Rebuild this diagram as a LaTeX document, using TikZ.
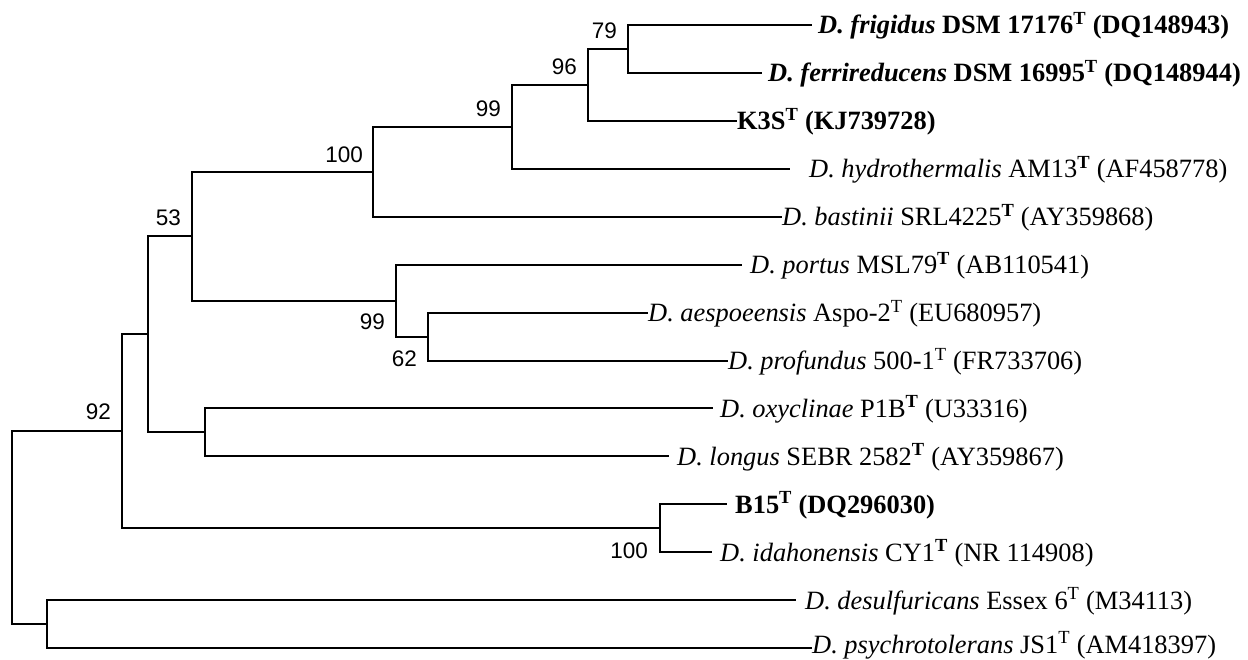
\documentclass[tikz,border=0pt]{standalone}
\usepackage{fontspec}
\setmainfont{Liberation Serif}
\newfontfamily\supportfont{Liberation Sans}
\tikzstyle{branch}=[line width=2.2pt]
\tikzstyle{taxon}=[anchor=base west,inner sep=0pt,font=\fontsize{26.4}{30}\selectfont]
\tikzstyle{bootabove}=[anchor=south east,inner sep=0pt,font=\supportfont\fontsize{22.5}{26}\selectfont]
\tikzstyle{bootbelow}=[bootabove,anchor=north east]
\newcommand{\drawleaf}[6][9]{
\coordinate (#2) at (#3,#4);
\node[taxon] (#2t) at (#3+#5,#4+#1) {#6};
}
\newcommand{\supT}{\textsuperscript{T}}
\newcommand{\supTb}{\textsuperscript{\textbf{T}}}

\begin{document}
\begin{tikzpicture}[x=1pt,y=-1pt]
\useasboundingbox (0,0) rectangle (1248,660);
	% leaves: name, end of branch, height, gap, label
	\drawleaf{frig}{812}{25}{6}{\textbf{\textit{D. frigidus} DSM 17176\supT{} (DQ148943)}}
	\drawleaf{ferr}{762}{73}{6}{\textbf{\textit{D. ferrireducens} DSM 16995\supT{} (DQ148944)}}
	\drawleaf{kths}{737}{121}{0}{\textbf{K3S\supT{} (KJ739728)}}
	\drawleaf{hydr}{790}{169}{19}{\textit{D. hydrothermalis} AM13\supTb{} (AF458778)}
	\drawleaf{bast}{782}{217}{0}{\textit{D. bastinii} SRL4225\supTb{} (AY359868)}
	\drawleaf{port}{742}{265}{8}{\textit{D. portus} MSL79\supTb{} (AB110541)}
	\drawleaf{aesp}{648}{313}{0}{\textit{D. aespoeensis} Aspo-2\supT{} (EU680957)}
	\drawleaf{prof}{728}{361}{0}{\textit{D. profundus} 500-1\supT{} (FR733706)}
	\drawleaf{oxyc}{713}{408}{7}{\textit{D. oxyclinae} P1B\supTb{} (U33316)}
	\drawleaf{long}{669}{456}{8}{\textit{D. longus} SEBR 2582\supTb{} (AY359867)}
	\drawleaf{bfif}{727}{504}{8}{\textbf{B15\supT{} (DQ296030)}}
	\drawleaf{idah}{712}{552}{8}{\textit{D. idahonensis} CY1\supTb{} (NR 114908)}
	\drawleaf{desu}{796}{600}{9}{\textit{D. desulfuricans} Essex 6\supT{} (M34113)}
	\drawleaf[5]{psyc}{812}{648}{0}{\textit{D. psychrotolerans} JS1\supT{} (AM418397)}
	% internal nodes
	\coordinate (n79) at (628,49);
	\coordinate (n96) at (588,85);
	\coordinate (n99a) at (512,127);
	\coordinate (n100a) at (373,172);
	\coordinate (n62) at (428,337);
	\coordinate (n99b) at (396,301);
	\coordinate (n53) at (192,236);
	\coordinate (nox) at (205,432);
	\coordinate (nmid) at (148,334);
	\coordinate (nbf) at (660,528);
	\coordinate (n92) at (122,431);
	\coordinate (nds) at (47,624);
	\coordinate (root) at (12,528);
	% branches
	\draw[branch] (n79) |- (frig);
	\draw[branch] (n79) |- (ferr);
	\draw[branch] (n96) |- (n79);
	\draw[branch] (n96) |- (kths);
	\draw[branch] (n99a) |- (n96);
	\draw[branch] (n99a) |- (hydr);
	\draw[branch] (n100a) |- (n99a);
	\draw[branch] (n100a) |- (bast);
	\draw[branch] (n62) |- (aesp);
	\draw[branch] (n62) |- (prof);
	\draw[branch] (n99b) |- (port);
	\draw[branch] (n99b) |- (n62);
	\draw[branch] (n53) |- (n100a);
	\draw[branch] (n53) |- (n99b);
	\draw[branch] (nox) |- (oxyc);
	\draw[branch] (nox) |- (long);
	\draw[branch] (nmid) |- (n53);
	\draw[branch] (nmid) |- (nox);
	\draw[branch] (nbf) |- (bfif);
	\draw[branch] (nbf) |- (idah);
	\draw[branch] (n92) |- (nmid);
	\draw[branch] (n92) |- (nbf);
	\draw[branch] (nds) |- (desu);
	\draw[branch] (nds) |- (psyc);
	\draw[branch] (root) |- (n92);
	\draw[branch] (root) |- (nds);
	% support values
	\node[bootabove] (b79) at ([shift={(-11,-10)}]n79) {79};
	\node[bootabove] (b96) at ([shift={(-11,-10)}]n96) {96};
	\node[bootabove] (b99a) at ([shift={(-11,-10)}]n99a) {99};
	\node[bootabove] (b100a) at ([shift={(-10,-9)}]n100a) {100};
	\node[bootabove] (b53) at ([shift={(-11,-10)}]n53) {53};
	\node[bootabove] (b92) at ([shift={(-11,-11)}]n92) {92};
	\node[bootbelow] (b99b) at ([shift={(-11,13)}]n99b) {99};
	\node[bootbelow] (b62) at ([shift={(-11,14)}]n62) {62};
	\node[bootbelow] (b100b) at ([shift={(-12,15)}]nbf) {100};
\end{tikzpicture}
\end{document}
